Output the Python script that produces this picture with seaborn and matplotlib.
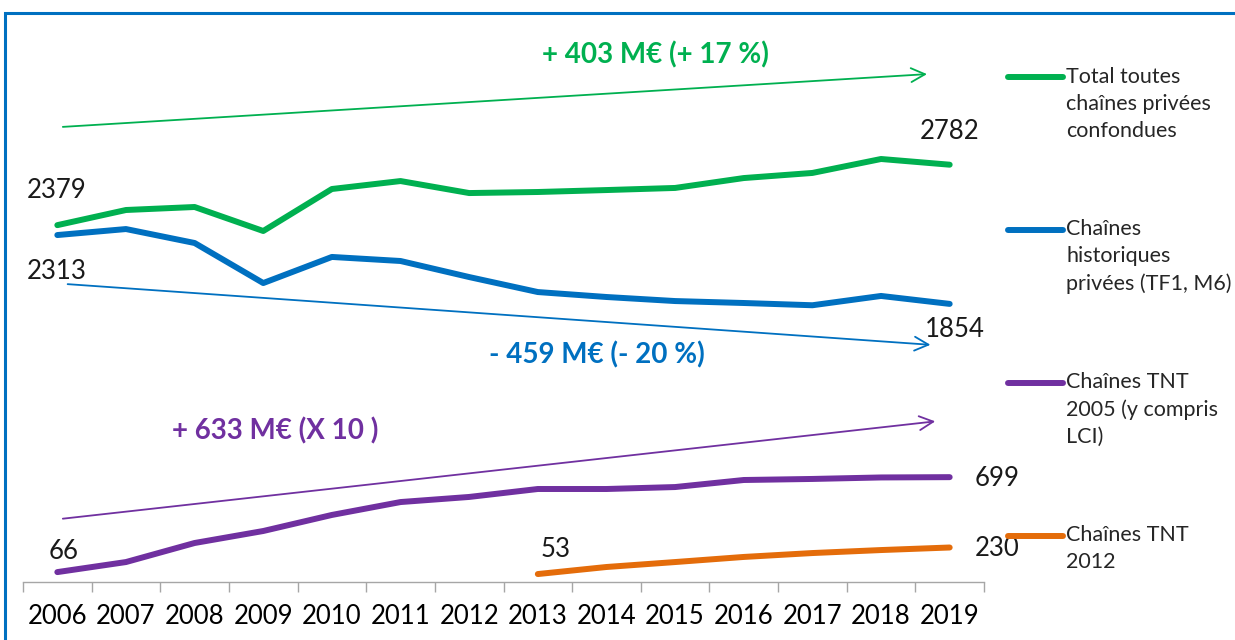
import numpy as np
import pandas as pd
import seaborn as sns
import matplotlib.pyplot as plt
from matplotlib.patches import Rectangle

#@ Data (M€)
years = list(range(2006, 2020))
total = [2379, 2480, 2500, 2340, 2620, 2673, 2593, 2600, 2613, 2627, 2693, 2727, 2820, 2782]
historiques = [2313, 2353, 2260, 1993, 2167, 2140, 2033, 1933, 1900, 1873, 1860, 1845, 1907, 1854]
tnt2005 = [66, 133, 260, 340, 447, 533, 567, 620, 620, 633, 680, 687, 697, 699]
tnt2012_years = list(range(2013, 2020))
tnt2012 = [53, 100, 133, 167, 193, 213, 230]

names = ["Total toutes\nchaînes privées\nconfondues",
         "Chaînes\nhistoriques\nprivées (TF1, M6)",
         "Chaînes TNT\n2005 (y compris\nLCI)",
         "Chaînes TNT\n2012"]
colors = ["#00B050", "#0070C0", "#7030A0", "#E46C0A"]

#@ Long format dataframe for seaborn
df = pd.concat([
    pd.DataFrame({"year": years, "value": total, "serie": names[0]}),
    pd.DataFrame({"year": years, "value": historiques, "serie": names[1]}),
    pd.DataFrame({"year": years, "value": tnt2005, "serie": names[2]}),
    pd.DataFrame({"year": tnt2012_years, "value": tnt2012, "serie": names[3]}),
])

sns.set_style("white")
plt.rcParams['font.family'] = ['Lato', 'DejaVu Sans']

fig = plt.figure(figsize=(12.35, 6.4), dpi=100)
ax = fig.add_axes([23 / 1235, 58 / 640, 961 / 1235, 555 / 640])

sns.lineplot(data=df, x="year", y="value", hue="serie", hue_order=names,
             palette=dict(zip(names, colors)), linewidth=4.3,
             solid_capstyle="round", ax=ax)

ax.set_xlim(2005.5, 2019.5)
ax.set_ylim(0, 3700)
ax.set_xlabel("")
ax.set_ylabel("")
ax.set_yticks([])
ax.set_xticks(years)
ax.set_xticklabels([str(y) for y in years], fontsize=18.5, color="#000000")
ax.set_xticks(np.arange(2005.5, 2020, 1), minor=True)
ax.tick_params(axis="x", which="major", length=0, pad=16)
ax.tick_params(axis="x", which="minor", length=7, width=1, color="#A6A6A6", bottom=True)
for s in ["top", "right", "left"]:
    ax.spines[s].set_visible(False)
ax.spines["bottom"].set_color("#A6A6A6")
ax.spines["bottom"].set_linewidth(1)

#@ Data labels
def label(x, y, txt, dx, dy, ha="center"):
    ax.annotate(txt, (x, y), xytext=(dx, dy), textcoords="offset pixels",
                ha=ha, va="center", fontsize=18.5, color="#1a1a1a")

label(years[0], total[0], str(total[0]), -1, 35)
label(years[-1], total[-1], str(total[-1]), 0, 33)
label(years[0], historiques[0], str(historiques[0]), -1, -36)
label(years[-1], historiques[-1], str(historiques[-1]), 5, -26)
label(years[0], tnt2005[0], str(tnt2005[0]), 6, 21)
label(years[-1], tnt2005[-1], str(tnt2005[-1]), 25, -1, ha="left")
label(tnt2012_years[0], tnt2012[0], str(tnt2012[0]), 18, 25)
label(tnt2012_years[-1], tnt2012[-1], str(tnt2012[-1]), 25, -1, ha="left")

#@ Trend arrows and texts
arrows = [((2006.04, 3033), (2018.71, 3387), colors[0]),
          ((2006.11, 1987), (2018.76, 1580), colors[1]),
          ((2006.04, 420), (2018.83, 1073), colors[2])]
for start, end, c in arrows:
    ax.annotate("", xy=end, xytext=start,
                arrowprops=dict(arrowstyle="->,head_length=1.0,head_width=0.5", color=c, lw=1.3))

ax.text(2014.71, 3513, "+ 403 M€ (+ 17 %)", color=colors[0], fontsize=20,
        fontweight="bold", ha="center", va="center")
ax.text(2013.86, 1513, "- 459 M€ (- 20 %)", color=colors[1], fontsize=20,
        fontweight="bold", ha="center", va="center")
ax.text(2009.17, 1007, "+ 633 M€ (X 10 )", color=colors[2], fontsize=20,
        fontweight="bold", ha="center", va="center")

#@ Legend on the right (blank lines so the line sits at the first text line)
handles, _ = ax.get_legend_handles_labels()
pad_labels = ["\n\n" + n + "\n " * (2 - n.count("\n")) for n in names]
leg = ax.legend(handles, pad_labels, loc="upper left",
                bbox_to_anchor=(1008 / 1235, 1 - 13 / 640),
                bbox_transform=fig.transFigure, frameon=False, fontsize=15.5,
                handlelength=2.56, handletextpad=0.14, labelspacing=1.15,
                borderaxespad=0, borderpad=0)
for t in leg.get_texts():
    t.set_linespacing(1.43)
    t.set_color("#262626")
for h in leg.legend_handles:
    h.set_linewidth(4.3)
    h.set_solid_capstyle("round")

#@ Blue frame of the original image
fig.add_artist(Rectangle((5 / 1235, -0.1), 1.2, 0.1 + 627 / 640, transform=fig.transFigure,
                         fill=False, edgecolor="#0070C0", lw=2.2))

plt.savefig("out.png", dpi=100)
plt.close()
